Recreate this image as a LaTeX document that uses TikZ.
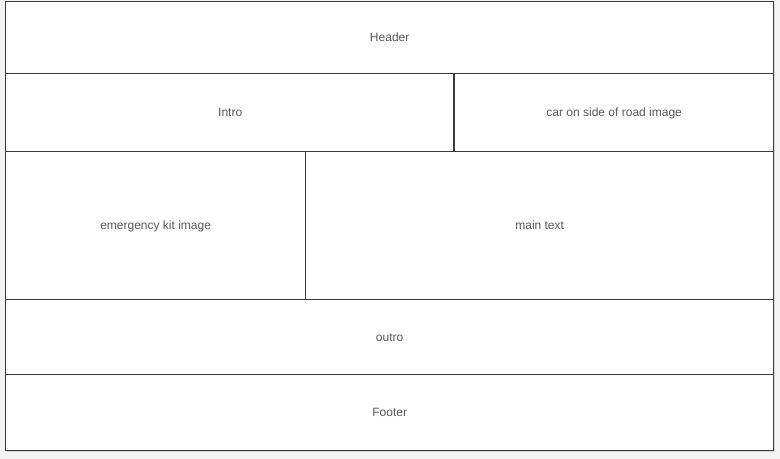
\documentclass[tikz,border=0pt]{standalone}
\usepackage{fontspec}
\setmainfont{Liberation Sans}
\definecolor{bg}{HTML}{F3F3F3}
\definecolor{linec}{HTML}{3C3C3C}
\definecolor{txt}{HTML}{595959}
\definecolor{shadowc}{HTML}{D6D6D6}
\begin{document}
\begin{tikzpicture}[x=0.75pt,y=-0.75pt,
  region/.style={draw=linec,line width=1pt,fill=white,inner sep=0pt,anchor=north west,
    text=txt,font=\fontsize{9pt}{11pt}\selectfont,text height=6.45pt,text depth=0pt},
]
\fill[bg] (0,0) rectangle (780,459);
\fill[shadowc] (7,3) rectangle (775,452);
\node[region,minimum width=768*0.75pt,minimum height=72*0.75pt] (header) at (5,1) {Header};
\node[region,minimum width=449*0.75pt,minimum height=78*0.75pt] (intro) at (5,73) {Intro};
\node[region,minimum width=319*0.75pt,minimum height=78*0.75pt] (car) at (454,73) {car on side of road image};
\node[region,minimum width=300*0.75pt,minimum height=148*0.75pt] (kit) at (5,151) {emergency kit image};
\node[region,minimum width=468*0.75pt,minimum height=148*0.75pt] (main) at (305,151) {main text};
\node[region,minimum width=768*0.75pt,minimum height=75*0.75pt] (outro) at (5,299) {outro};
\node[region,minimum width=768*0.75pt,minimum height=76*0.75pt] (footer) at (5,374) {Footer};
\draw[linec,line width=1.6pt] (car.north west) -- (car.south west);
\end{tikzpicture}
\end{document}
